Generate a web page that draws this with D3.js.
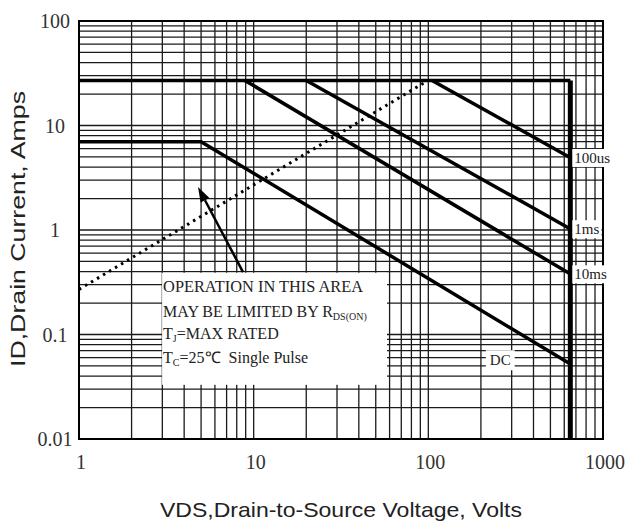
<!DOCTYPE html>
<html>
<head>
<meta charset="utf-8">
<script src="https://cdn.jsdelivr.net/npm/d3@7"></script>
<style>
  body { margin: 0; background: #fff; }
  text { white-space: pre; }
</style>
</head>
<body>
<div id="chart"></div>
<script>
// axis ticks
const xTicks = [1, 10, 100, 1000];
const xTickLabels = ["1", "10", "100", "1000"];
const yTicks = [0.01, 0.1, 1, 10, 100];
const yTickLabels = ["0.01", "0.1", "1", "10", "100"];

// boundary: current limit + voltage limit (V, A)
const vLimit = [1, 650, 650];
const iLimit = [27, 27, 0.01];

// pulse curves
const v100us = [105, 640];
const i100us = [27, 5.0];
const v1ms = [20, 640];
const i1ms = [27, 1.04];
const v10ms = [8.9, 640];
const i10ms = [27, 0.385];
const vDC = [1, 5, 640];
const iDC = [7, 7, 0.053];

// RDS(on) limit (dotted)
const vRds = [1, 96];
const iRds = [0.27, 26];

// curve labels
const curveLabels = ["100us", "1ms", "10ms"];
const curveLabelI = [5.0, 1.04, 0.385];

const width = 635, height = 525;
const margin = { top: 21, right: 32, bottom: 86, left: 79 };

const svg = d3.select("#chart").append("svg")
    .attr("width", width)
    .attr("height", height);

const x = d3.scaleLog().domain([1, 1000]).range([margin.left, width - margin.right]);
const y = d3.scaleLog().domain([0.01, 100]).range([height - margin.bottom, margin.top]);

// grid lines: 1..9 in every decade
const xGrid = [];
for (let d = 0; d < 3; d++) for (let k = 1; k <= 9; k++) xGrid.push(k * Math.pow(10, d));
const yGrid = [];
for (let d = -2; d < 2; d++) for (let k = 1; k <= 9; k++) yGrid.push(k * Math.pow(10, d));

const grid = svg.append("g").attr("stroke", "#1a1a1a").attr("stroke-width", 1.3);
grid.selectAll(".vg").data(xGrid).join("line")
    .attr("x1", d => x(d)).attr("x2", d => x(d))
    .attr("y1", y(0.01)).attr("y2", y(100));
grid.selectAll(".hg").data(yGrid).join("line")
    .attr("y1", d => y(d)).attr("y2", d => y(d))
    .attr("x1", x(1)).attr("x2", x(1000));

// frame
svg.append("rect")
    .attr("x", x(1)).attr("y", y(100))
    .attr("width", x(1000) - x(1)).attr("height", y(0.01) - y(100))
    .attr("fill", "none").attr("stroke", "#000").attr("stroke-width", 2);

// tick labels (serif, like the datasheet)
svg.append("g").selectAll("text").data(yTicks).join("text")
    .attr("x", 55)
    .attr("y", d => y(d))
    .attr("dy", "0.35em")
    .attr("text-anchor", "middle")
    .attr("font-family", "Liberation Serif, serif")
    .attr("font-size", 20)
    .attr("fill", "#333")
    .text((d, i) => yTickLabels[i]);

svg.append("g").selectAll("text").data(xTicks).join("text")
    .attr("x", d => x(d) + 2)
    .attr("y", 469)
    .attr("text-anchor", "middle")
    .attr("font-family", "Liberation Serif, serif")
    .attr("font-size", 20)
    .attr("fill", "#333")
    .text((d, i) => xTickLabels[i]);

// axis titles
svg.append("text")
    .attr("x", 341).attr("y", 517)
    .attr("text-anchor", "middle")
    .attr("font-family", "Liberation Sans, Arial, sans-serif")
    .attr("font-size", 21)
    .attr("textLength", 362)
    .attr("lengthAdjust", "spacingAndGlyphs")
    .attr("fill", "#222")
    .text("VDS,Drain-to-Source Voltage, Volts");

svg.append("text")
    .attr("transform", "translate(25,229) rotate(-90)")
    .attr("text-anchor", "middle")
    .attr("font-family", "Liberation Sans, Arial, sans-serif")
    .attr("font-size", 21)
    .attr("textLength", 276)
    .attr("lengthAdjust", "spacingAndGlyphs")
    .attr("fill", "#222")
    .text("ID,Drain Current, Amps");

const line = d3.line().x(d => x(d[0])).y(d => y(d[1]));
const pts = (vs, is) => vs.map((v, k) => [v, is[k]]);

// curves
const curves = svg.append("g").attr("fill", "none").attr("stroke", "#000");
curves.append("path").attr("d", line(pts(v100us, i100us))).attr("stroke-width", 3.5);
curves.append("path").attr("d", line(pts(v1ms, i1ms))).attr("stroke-width", 3.5);
curves.append("path").attr("d", line(pts(v10ms, i10ms))).attr("stroke-width", 3.5);
curves.append("path").attr("d", line(pts(vDC, iDC))).attr("stroke-width", 3.5);
curves.append("path").attr("d", line(pts(vLimit.slice(0, 2), iLimit.slice(0, 2)))).attr("stroke-width", 3.5);
curves.append("path").attr("d", line(pts(vLimit.slice(1), iLimit.slice(1)))).attr("stroke-width", 5);
curves.append("path").attr("d", line(pts(vRds, iRds)))
    .attr("stroke-width", 3)
    .attr("stroke-dasharray", "2.5,4.5");

// labels with white backing
function labelWithBg(tx, ty, txt, size, pad) {
    const g = svg.append("g");
    const bg = g.append("rect").attr("fill", "#fff");
    const t = g.append("text")
        .attr("x", tx).attr("y", ty)
        .attr("font-family", "Liberation Serif, serif")
        .attr("font-size", size)
        .attr("fill", "#222")
        .text(txt);
    const b = t.node().getBBox();
    bg.attr("x", b.x - pad).attr("y", b.y - pad / 2)
      .attr("width", b.width + 2 * pad).attr("height", b.height + pad);
}
curveLabels.forEach((lab, k) => labelWithBg(x(650) + 4, y(curveLabelI[k]) + 6, lab, 15, 2));
labelWithBg(x(225), y(0.058) + 6, "DC", 15, 4);

// annotation box
const box = svg.append("g");
box.append("rect")
    .attr("x", x(2.99)).attr("y", y(0.39))
    .attr("width", x(58) - x(2.99)).attr("height", y(0.033) - y(0.39))
    .attr("fill", "#fff");

const serif = "Liberation Serif, serif";
const tx = x(2.99) + 1;
box.append("text").attr("x", tx).attr("y", 292)
    .attr("font-family", serif).attr("font-size", 16).attr("fill", "#222")
    .attr("textLength", 200).attr("lengthAdjust", "spacingAndGlyphs")
    .text("OPERATION IN THIS AREA");
const t2 = box.append("text").attr("x", tx).attr("y", 317)
    .attr("font-family", serif).attr("font-size", 16).attr("fill", "#222");
t2.append("tspan").text("MAY BE LIMITED BY R");
t2.append("tspan").attr("font-size", 10).attr("dy", 3).text("DS(ON)");
const t3 = box.append("text").attr("x", tx).attr("y", 339)
    .attr("font-family", serif).attr("font-size", 16).attr("fill", "#222");
t3.append("tspan").text("T");
t3.append("tspan").attr("font-size", 10).attr("dy", 3).text("J");
t3.append("tspan").attr("dy", -3).text("=MAX RATED");
const t4 = box.append("text").attr("x", tx).attr("y", 363)
    .attr("font-family", serif).attr("font-size", 16).attr("fill", "#222");
t4.append("tspan").text("T");
t4.append("tspan").attr("font-size", 10).attr("dy", 3).text("C");
t4.append("tspan").attr("dy", -3).text("=25\u2103  Single Pulse");

// arrow pointing into the limited area
const a0 = [x(8.69), y(0.396)], a1 = [x(4.8), y(2.58)];
const ang = Math.atan2(a1[1] - a0[1], a1[0] - a0[0]);
const hl = 15, hw = 5;
const base = [a1[0] - hl * Math.cos(ang), a1[1] - hl * Math.sin(ang)];
svg.append("line")
    .attr("x1", a0[0]).attr("y1", a0[1])
    .attr("x2", base[0]).attr("y2", base[1])
    .attr("stroke", "#000").attr("stroke-width", 2.5);
svg.append("path")
    .attr("d", `M${a1[0]},${a1[1]}L${base[0] + hw * Math.sin(ang)},${base[1] - hw * Math.cos(ang)}L${base[0] - hw * Math.sin(ang)},${base[1] + hw * Math.cos(ang)}Z`)
    .attr("fill", "#000");
</script>
</body>
</html>
